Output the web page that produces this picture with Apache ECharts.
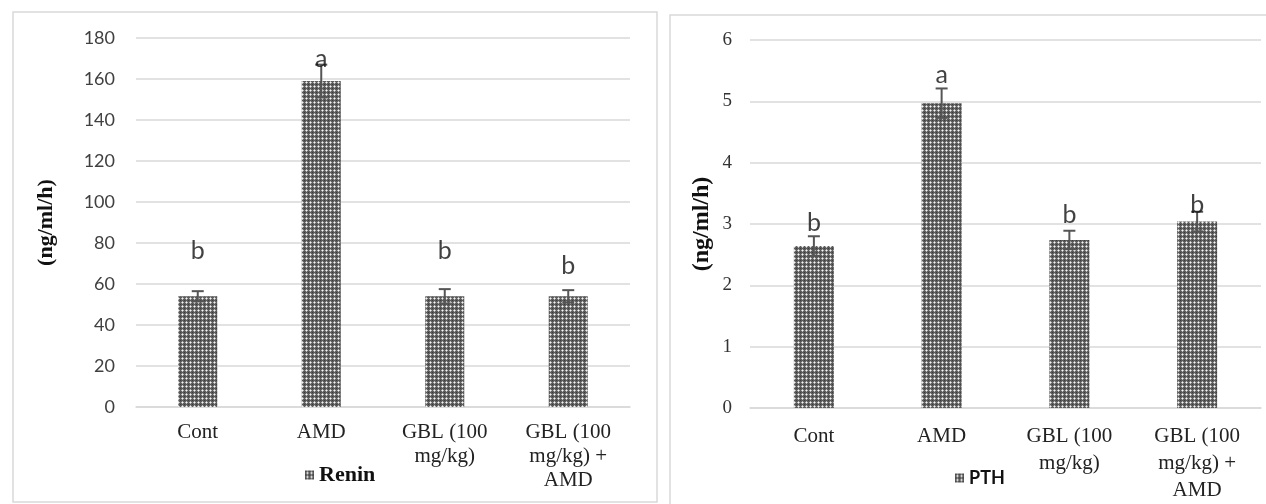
<!DOCTYPE html>
<html>
<head>
<meta charset="utf-8">
<script src="https://cdn.jsdelivr.net/npm/echarts@6/dist/echarts.min.js"></script>
<style>
  html, body { margin: 0; padding: 0; background: #fff; }
  #chart { width: 1266px; height: 504px; }
</style>
</head>
<body>
<div id="chart"></div>
<script>
// Group labels shared by both panels
const categories = ['Cont', 'AMD', 'GBL (100\nmg/kg)', 'GBL (100\nmg/kg) +\nAMD'];

// Renin (ng/ml/h): mean, error, significance letter and the height the letter sits at
const reninMean = [54, 159, 54, 54];
const reninErr = [2.5, 8, 3.5, 3];
const reninLetters = ['b', 'a', 'b', 'b'];
const reninLetterY = [76, 170, 76, 69];
const reninTicks = { min: 0, max: 180, step: 20 };

// PTH (ng/ml/h)
const pthMean = [2.64, 4.97, 2.74, 3.04];
const pthErr = [0.16, 0.24, 0.15, 0.16];
const pthLetters = ['b', 'a', 'b', 'b'];
const pthLetterY = [3.02, 5.43, 3.15, 3.31];
const pthTicks = { min: 0, max: 6, step: 1 };

// Small repeating tile for the dotted-grid bar fill
function makePatternTile() {
  const c = document.createElement('canvas');
  c.width = 4; c.height = 4;
  const g = c.getContext('2d');
  g.fillStyle = '#5c5c5c';
  g.fillRect(0, 0, 4, 4);
  const px = (x, y, col) => { g.fillStyle = col; g.fillRect(x, y, 1, 1); };
  px(0, 0, '#3c3c3c');
  px(2, 2, '#f4f4f4');
  px(1, 2, '#b8b8b8'); px(3, 2, '#b8b8b8');
  px(2, 1, '#b8b8b8'); px(2, 3, '#b8b8b8');
  return c;
}
const barFill = { image: makePatternTile(), repeat: 'repeat' };

const GRID_LINE = '#d9d9d9';
const SERIF = '"Liberation Serif", "Times New Roman", serif';
const SANS = 'Lato, "Open Sans", sans-serif';

function errorSeries(means, errs, axisIdx) {
  return {
    type: 'custom',
    xAxisIndex: axisIdx, yAxisIndex: axisIdx,
    silent: true, z: 5,
    data: means.map((m, i) => [i, m, errs[i]]),
    renderItem: function (params, api) {
      const x = api.value(0), m = api.value(1), e = api.value(2);
      const top = api.coord([x, m + e]);
      const bot = api.coord([x, m - e]);
      const cap = 6;
      const style = { stroke: '#555', lineWidth: 2 };
      return {
        type: 'group',
        children: [
          { type: 'line', shape: { x1: top[0], y1: top[1], x2: bot[0], y2: bot[1] }, style: style },
          { type: 'line', shape: { x1: top[0] - cap, y1: top[1], x2: top[0] + cap, y2: top[1] }, style: style },
          { type: 'line', shape: { x1: bot[0] - cap, y1: bot[1], x2: bot[0] + cap, y2: bot[1] }, style: style }
        ]
      };
    }
  };
}

function letterSeries(letters, heights, axisIdx) {
  return {
    type: 'scatter',
    xAxisIndex: axisIdx, yAxisIndex: axisIdx,
    silent: true, z: 6,
    symbolSize: 1,
    itemStyle: { color: 'rgba(0,0,0,0)' },
    data: heights.map((h, i) => [i, h]),
    label: {
      show: true, position: 'inside',
      formatter: p => letters[p.dataIndex],
      fontFamily: SANS, fontSize: 25, color: '#111'
    }
  };
}

const chart = echarts.init(document.getElementById('chart'), null, { renderer: 'canvas' });

chart.setOption({
  animation: false,
  backgroundColor: '#fff',
  graphic: [
    { type: 'rect', shape: { x: 13, y: 12, width: 644, height: 490 },
      style: { fill: 'none', stroke: GRID_LINE, lineWidth: 1.5 } },
    { type: 'rect', shape: { x: 670, y: 15, width: 620, height: 520 },
      style: { fill: 'none', stroke: GRID_LINE, lineWidth: 1.5 } }
  ],
  legend: [
    { data: ['Renin'], left: 300, top: 459, icon: 'rect', itemWidth: 9, itemHeight: 9, itemGap: 5,
      textStyle: { fontFamily: SERIF, fontWeight: 'bold', fontSize: 22, color: '#111' } },
    { data: ['PTH'], left: 950, top: 464, icon: 'rect', itemWidth: 9, itemHeight: 9, itemGap: 5,
      textStyle: { fontFamily: SANS, fontWeight: 'bold', fontSize: 18, color: '#111' } }
  ],
  grid: [
    { left: 136, right: 636, top: 38, bottom: 97 },
    { left: 750, right: 5, top: 40, bottom: 96 }
  ],
  xAxis: [
    { gridIndex: 0, type: 'category', data: categories,
      axisTick: { show: false },
      axisLine: { lineStyle: { color: GRID_LINE, width: 1.5 } },
      axisLabel: { interval: 0, margin: 13, fontFamily: SERIF, fontSize: 21, lineHeight: 24, color: '#222' } },
    { gridIndex: 1, type: 'category', data: categories,
      axisTick: { show: false },
      axisLine: { lineStyle: { color: GRID_LINE, width: 1.5 } },
      axisLabel: { interval: 0, margin: 15, fontFamily: SERIF, fontSize: 21, lineHeight: 27, color: '#222' } }
  ],
  yAxis: [
    { gridIndex: 0, type: 'value', min: reninTicks.min, max: reninTicks.max, interval: reninTicks.step,
      name: '(ng/ml/h)', nameLocation: 'middle', nameGap: 79, nameRotate: 90,
      nameTextStyle: { fontFamily: SERIF, fontWeight: 'bold', fontSize: 22, color: '#111' },
      axisLine: { show: false }, axisTick: { show: false },
      splitLine: { lineStyle: { color: GRID_LINE, width: 1.5 } },
      axisLabel: { margin: 21, fontFamily: SANS, fontSize: 18, color: '#404040' } },
    { gridIndex: 1, type: 'value', min: pthTicks.min, max: pthTicks.max, interval: pthTicks.step,
      name: '(ng/ml/h)', nameLocation: 'middle', nameGap: 36, nameRotate: 90,
      nameTextStyle: { fontFamily: SERIF, fontWeight: 'bold', fontSize: 24, color: '#111' },
      axisLine: { show: false }, axisTick: { show: false },
      splitLine: { lineStyle: { color: GRID_LINE, width: 1.5 } },
      axisLabel: { margin: 18, fontFamily: SERIF, fontSize: 19, color: '#333' } }
  ],
  series: [
    { name: 'Renin', type: 'bar', xAxisIndex: 0, yAxisIndex: 0, barWidth: 39,
      data: reninMean, itemStyle: { color: barFill } },
    errorSeries(reninMean, reninErr, 0),
    letterSeries(reninLetters, reninLetterY, 0),
    { name: 'PTH', type: 'bar', xAxisIndex: 1, yAxisIndex: 1, barWidth: 40,
      data: pthMean, itemStyle: { color: barFill } },
    errorSeries(pthMean, pthErr, 1),
    letterSeries(pthLetters, pthLetterY, 1)
  ]
});
</script>
</body>
</html>
